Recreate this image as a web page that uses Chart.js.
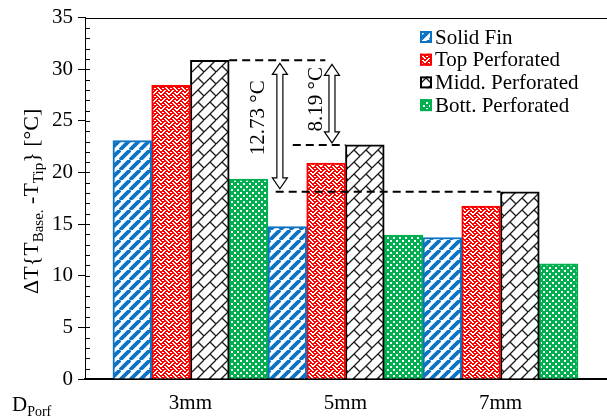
<!DOCTYPE html>
<html>
<head>
<meta charset="utf-8">
<script src="https://cdn.jsdelivr.net/npm/chart.js@4"></script>
<style>
html, body { margin: 0; padding: 0; background: #fff; }
canvas { display: block; }
</style>
</head>
<body>
<canvas id="chart" width="607" height="418"></canvas>
<script>
// values
const categories = ['3mm', '5mm', '7mm'];
const seriesLabels = ['Solid Fin', 'Top Perforated', 'Midd. Perforated', 'Bott. Perforated'];
const solidFin = [23.1, 14.75, 13.7];
const topPerf = [28.45, 20.9, 16.75];
const middPerf = [30.86, 22.67, 18.13];
const bottPerf = [19.35, 13.95, 11.15];

const FONT = "'Liberation Serif', 'Times New Roman', serif";
const canvas = document.getElementById('chart');
const mainCtx = canvas.getContext('2d');

// x range so the groups sit where they do in the figure (1 unit = one group)
const xMin = 0.32;
const xMax = 3.687;

function tile(w, h, draw) {
    const c = document.createElement('canvas');
    c.width = w;
    c.height = h;
    const g = c.getContext('2d');
    g.fillStyle = '#fff';
    g.fillRect(0, 0, w, h);
    draw(g);
    return mainCtx.createPattern(c, 'repeat');
}

// 8x8 bit pattern, each set bit drawn `thick` pixels wide (wrapping)
function bits(rows, color, thick) {
    return tile(8, 8, g => {
        g.fillStyle = color;
        rows.forEach((r, i) => {
            for (let b = 0; b < 8; b++) {
                if (r & (0x80 >> b)) {
                    for (let k = 0; k < thick; k++) g.fillRect((b + k) % 8, i, 1, 1);
                }
            }
        });
    });
}

const blue = '#0b72c4';
const red = '#ff0000';
const green = '#00b050';

const stripes = tile(10, 10, g => {
    g.strokeStyle = blue;
    g.lineWidth = 3.8;
    for (const x0 of [-10, 0, 10]) {
        g.beginPath();
        g.moveTo(x0, 10);
        g.lineTo(x0 + 10, 0);
        g.stroke();
    }
});
const weave = bits([0x88, 0x54, 0x22, 0x45, 0x88, 0x14, 0x22, 0x51], red, 2);
// diagonal brick: long "/" strokes with short "\" joints
const brick = tile(12, 12, g => {
    g.strokeStyle = '#1a1a1a';
    g.lineWidth = 1.3;
    g.beginPath();
    for (const o of [-12, 0, 12]) {
        g.moveTo(o, 12);
        g.lineTo(o + 12, 0);
    }
    g.moveTo(6, 6);
    g.lineTo(12, 12);
    g.moveTo(-6, 6);
    g.lineTo(0, 12);
    g.moveTo(6, -6);
    g.lineTo(12, 0);
    g.stroke();
});
const dots = tile(6, 6, g => {
    g.fillStyle = green;
    g.fillRect(0, 0, 6, 6);
    g.fillStyle = '#fff';
    g.fillRect(0, 0, 2, 2);
    g.fillRect(3, 3, 2, 2);
});

const fills = [stripes, weave, brick, dots];
const edges = [blue, red, '#000', green];
const series = [solidFin, topPerf, middPerf, bottPerf];

const datasets = series.map((d, i) => ({
    label: seriesLabels[i],
    data: d,
    backgroundColor: fills[i],
    borderColor: edges[i],
    borderWidth: 2,
    categoryPercentage: 1,
    barPercentage: 1
}));

// draw text with subscripts: parts = [[text, isSub], ...]
function richText(ctx, parts, size, subSize) {
    let w = 0;
    const widths = parts.map(([t, sub]) => {
        ctx.font = (sub ? subSize : size) + 'px ' + FONT;
        const m = ctx.measureText(t).width;
        w += m;
        return m;
    });
    return { w, draw(x, y) {
        let cx = x;
        parts.forEach(([t, sub], i) => {
            ctx.font = (sub ? subSize : size) + 'px ' + FONT;
            ctx.fillText(t, cx, sub ? y + 5 : y);
            cx += widths[i];
        });
    } };
}

function doubleArrow(ctx, x, y1, y2) {
    const hw = 7.5, sw = 3, hl = 11;
    ctx.beginPath();
    ctx.moveTo(x, y1);
    ctx.lineTo(x + hw, y1 + hl);
    ctx.lineTo(x + sw, y1 + hl);
    ctx.lineTo(x + sw, y2 - hl);
    ctx.lineTo(x + hw, y2 - hl);
    ctx.lineTo(x, y2);
    ctx.lineTo(x - hw, y2 - hl);
    ctx.lineTo(x - sw, y2 - hl);
    ctx.lineTo(x - sw, y1 + hl);
    ctx.lineTo(x - hw, y1 + hl);
    ctx.closePath();
    ctx.fillStyle = '#fff';
    ctx.fill();
    ctx.lineWidth = 1.2;
    ctx.strokeStyle = '#000';
    ctx.stroke();
}

const decor = {
    id: 'decor',
    afterDatasetsDraw(chart) {
        const { ctx, chartArea: a, scales: { x, y } } = chart;
        ctx.save();

        // top frame line and inward minor ticks
        ctx.strokeStyle = '#000';
        ctx.lineWidth = 1;
        ctx.beginPath();
        ctx.moveTo(a.left, Math.round(a.top) + 0.5);
        ctx.lineTo(a.right, Math.round(a.top) + 0.5);
        for (let v = 1; v < 35; v++) {
            const py = Math.round(y.getPixelForValue(v)) + 0.5;
            ctx.moveTo(a.left, py);
            ctx.lineTo(a.left + 5, py);
        }
        ctx.stroke();

        // dashed reference lines from the middle-perforated bars
        const bars = chart.getDatasetMeta(2).data;
        const yTop = y.getPixelForValue(middPerf[0]);
        const yMid = y.getPixelForValue(middPerf[1]);
        const yLow = y.getPixelForValue(middPerf[2]);
        ctx.setLineDash([8, 5]);
        ctx.lineWidth = 2;
        ctx.beginPath();
        ctx.moveTo(bars[0].x + bars[0].width / 2, yTop);
        ctx.lineTo(x.getPixelForValue(1.87), yTop);
        ctx.moveTo(x.getPixelForValue(1.66), yMid);
        ctx.lineTo(bars[1].x - bars[1].width / 2, yMid);
        ctx.moveTo(x.getPixelForValue(1.55), yLow);
        ctx.lineTo(bars[2].x - bars[2].width / 2, yLow);
        ctx.stroke();
        ctx.setLineDash([]);

        doubleArrow(ctx, x.getPixelForValue(1.577), yTop + 3, yLow - 3);
        doubleArrow(ctx, x.getPixelForValue(1.913), yTop + 4, yMid - 2);

        ctx.fillStyle = '#000';
        ctx.font = '21px ' + FONT;
        ctx.textAlign = 'center';
        ctx.textBaseline = 'alphabetic';
        const notes = [
            [(middPerf[0] - middPerf[2]).toFixed(2) + ' \u00B0C', 1.474, 25.3],
            [(middPerf[0] - middPerf[1]).toFixed(2) + ' \u00B0C', 1.848, 27.1]
        ];
        notes.forEach(([t, xv, yv]) => {
            ctx.save();
            ctx.translate(x.getPixelForValue(xv), y.getPixelForValue(yv));
            ctx.rotate(-Math.PI / 2);
            ctx.fillText(t, 0, 0);
            ctx.restore();
        });
        ctx.restore();
    },
    afterDraw(chart) {
        const { ctx, chartArea: a } = chart;
        ctx.save();
        ctx.fillStyle = '#000';
        ctx.textAlign = 'left';
        ctx.textBaseline = 'alphabetic';

        // y axis title
        const title = richText(ctx, [['\u0394T{T', false], ['Base.', true], [' -T', false], ['Tip', true], ['} [\u00B0C]', false]], 22, 15);
        ctx.save();
        ctx.translate(38, (a.top + a.bottom) / 2 + 3);
        ctx.rotate(-Math.PI / 2);
        title.draw(-title.w / 2, 0);
        ctx.restore();

        // x axis caption
        richText(ctx, [['D', false], ['Porf', true]], 21, 14).draw(12, 411);

        // legend
        const lx = 420, ly = 37, step = 22.7;
        seriesLabels.forEach((lab, i) => {
            const cy = ly + i * step;
            ctx.fillStyle = fills[i];
            ctx.fillRect(lx, cy - 6, 12, 12);
            ctx.strokeStyle = edges[i];
            ctx.lineWidth = 2;
            ctx.strokeRect(lx + 1, cy - 5, 10, 10);
            ctx.fillStyle = '#000';
            ctx.font = '21px ' + FONT;
            ctx.textBaseline = 'middle';
            ctx.fillText(lab, lx + 15, cy + 1);
        });
        ctx.restore();
    }
};

new Chart(canvas, {
    type: 'bar',
    data: { labels: categories.map((_, i) => i + 1), datasets },
    options: {
        responsive: false,
        animation: false,
        devicePixelRatio: 1,
        layout: { padding: { top: 16, right: 0, left: 0, bottom: 0 } },
        plugins: { legend: { display: false }, tooltip: { enabled: false } },
        scales: {
            x: {
                type: 'linear',
                offset: false,
                min: xMin,
                max: xMax,
                grid: { display: false, drawTicks: false, offset: false },
                border: { display: true, color: '#000', width: 2 },
                ticks: {
                    stepSize: 1,
                    includeBounds: false,
                    padding: 12,
                    color: '#000',
                    font: { family: FONT, size: 21 },
                    callback: v => categories[v - 1] ?? ''
                },
                afterFit: s => { s.height = 39; }
            },
            y: {
                min: 0,
                max: 35,
                grid: { drawOnChartArea: false, color: '#000', tickLength: 7 },
                border: { color: '#000', width: 1 },
                ticks: {
                    stepSize: 5,
                    padding: 5,
                    color: '#000',
                    font: { family: FONT, size: 21 }
                },
                afterFit: s => { s.width = 85; }
            }
        }
    },
    plugins: [decor]
});
</script>
</body>
</html>
